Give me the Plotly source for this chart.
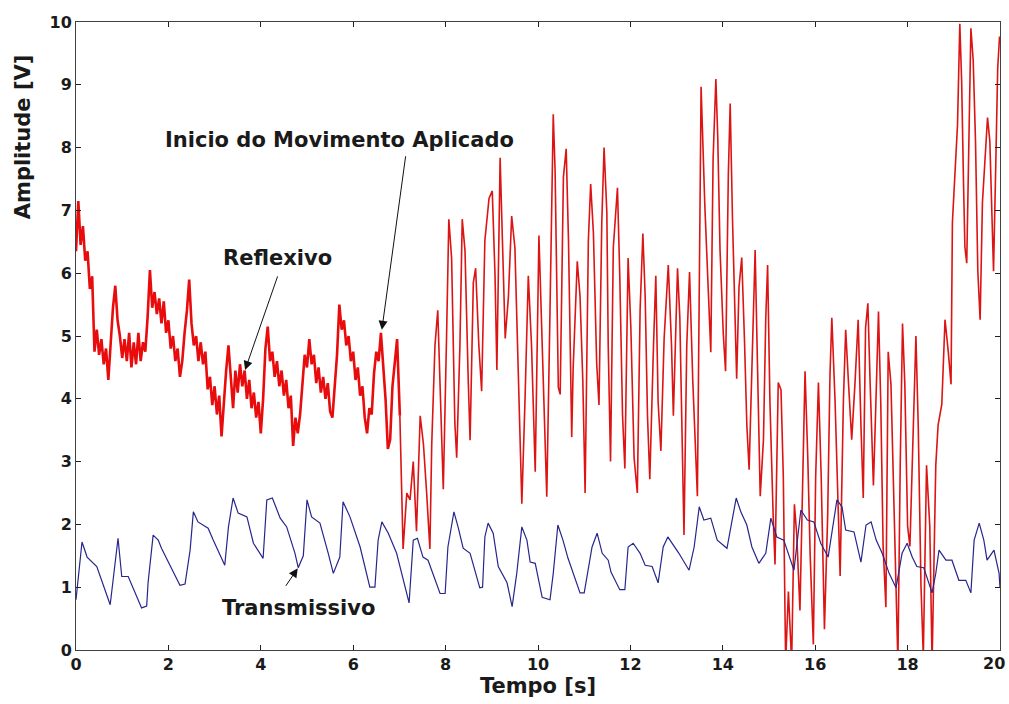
import plotly.graph_objects as go

# ---- Reflexivo (red) : noisy part, sampled every 0.05 s from t = 0 ----
refl_noisy_step = 0.05
refl_noisy_v = [
    6.35, 7.15, 6.45, 6.75, 6.2, 6.35, 5.75, 5.95, 4.75, 5.1,
    4.7, 4.95, 4.55, 4.8, 4.3, 4.95, 5.45, 5.8, 5.25, 5.0,
    4.65, 4.95, 4.6, 5.05, 4.5, 4.9, 4.55, 5.05, 4.6, 4.9,
    4.75, 5.3, 6.05, 5.45, 5.7, 5.35, 5.6, 5.2, 5.55, 5.05,
    5.25, 4.8, 5.0, 4.6, 4.8, 4.35, 4.6, 5.05, 5.4, 5.9,
    5.2, 4.85, 5.0, 4.6, 4.9, 4.55, 4.75, 4.15, 4.35, 3.9,
    4.2, 3.75, 4.05, 3.4, 4.0, 4.45, 4.85, 4.3, 3.85, 4.45,
    4.1, 4.55, 4.2, 4.45, 4.0, 4.3, 3.85, 4.1, 3.7, 3.95,
    3.45, 4.0, 4.8, 5.15, 4.6, 4.75, 4.35, 4.6, 4.2, 4.45,
    4.05, 4.3, 3.85, 4.05, 3.25, 3.7, 3.45, 3.75, 4.3, 4.7,
    4.5, 4.95, 4.55, 4.7, 4.25, 4.5, 4.1, 4.35, 4.0, 4.25,
    3.8, 3.7, 4.2, 4.7, 5.5, 5.1, 5.25, 4.85, 5.0, 4.6,
    4.75, 4.3, 4.5, 4.05, 4.2, 3.7, 3.45, 3.85, 3.75, 4.4,
    4.75, 4.6, 5.05, 4.5, 4.0, 3.2, 3.35, 4.2, 4.6, 4.95,
]

# ---- Reflexivo (red) : oscillating part after the applied movement ----
refl_t = [
    7.01, 7.08, 7.16, 7.23, 7.30, 7.37, 7.45, 7.52, 7.59, 7.66, 7.70, 7.77, 7.83, 7.88, 7.95,
    8.02, 8.07, 8.13, 8.20, 8.24, 8.31, 8.36, 8.42, 8.49, 8.53, 8.60, 8.65, 8.72, 8.78, 8.85,
    8.94, 9.01, 9.07, 9.11, 9.18, 9.23, 9.29, 9.36, 9.43, 9.50, 9.57, 9.65, 9.72, 9.79, 9.86,
    9.94, 10.02, 10.19, 10.26, 10.33, 10.37, 10.44, 10.48, 10.55, 10.61, 10.66, 10.73, 10.76,
    10.85, 10.91, 10.97, 11.02, 11.09, 11.14, 11.20, 11.27, 11.32, 11.38, 11.43, 11.49, 11.52,
    11.57, 11.63, 11.72, 11.77, 11.83, 11.88, 11.95, 12.01, 12.08, 12.15, 12.21, 12.27, 12.32,
    12.37, 12.42, 12.50, 12.55, 12.60, 12.66, 12.73, 12.82, 12.89, 12.93, 13.02, 13.07, 13.16,
    13.22, 13.28, 13.35, 13.45, 13.53, 13.61, 13.69, 13.74, 13.79, 13.85, 13.89, 13.94, 14.01,
    14.06, 14.12, 14.16, 14.21, 14.25, 14.30, 14.35, 14.41, 14.47, 14.52, 14.57, 14.64, 14.70,
    14.75, 14.81, 14.88, 14.93, 14.97, 15.02, 15.09, 15.13, 15.20, 15.26, 15.31, 15.36, 15.42,
    15.49, 15.55, 15.60, 15.67, 15.72, 15.78, 15.84, 15.89, 15.96, 16.01, 16.07, 16.13, 16.20,
    16.27, 16.32, 16.36, 16.43, 16.49, 16.54, 16.61, 16.66, 16.72, 16.79, 16.86, 16.93, 16.99,
    17.04, 17.09, 17.14, 17.19, 17.26, 17.31, 17.37, 17.42, 17.47, 17.53, 17.58, 17.64, 17.71,
    17.79, 17.84, 17.89, 17.94, 18.00, 18.05, 18.12, 18.18, 18.23, 18.29, 18.34, 18.41, 18.48,
    18.53, 18.61, 18.66, 18.74, 18.81, 18.88, 18.94, 18.97, 19.03, 19.08, 19.13, 19.17, 19.21,
    19.24, 19.28, 19.33, 19.37, 19.42, 19.47, 19.52, 19.57, 19.62, 19.68, 19.73, 19.78, 19.82,
    19.86, 19.91, 19.95, 19.99,
]
refl_v = [
    3.73, 1.61, 2.5, 2.39, 3.0, 1.89, 3.73, 3.28, 2.5, 1.61, 3.28, 4.85, 5.41, 4.29, 2.56,
    4.96, 6.86, 6.24, 3.62, 3.06, 4.85, 6.86, 6.36, 4.29, 3.34, 5.85, 6.08, 4.85, 4.12, 6.52,
    7.19, 7.31, 5.96, 4.46, 7.84, 6.52, 4.96, 5.63, 6.91, 6.41, 4.29, 2.33, 4.01, 5.96, 4.85,
    2.84, 6.6, 2.44, 5.41, 8.53, 7.64, 4.18, 4.07, 7.53, 7.98, 6.52, 3.39, 4.46,
    6.19, 5.63, 4.29, 2.5, 6.52, 7.42, 6.63, 4.57, 3.9, 6.8, 8.0, 6.97, 4.85,
    3.0, 6.41, 7.36, 5.96, 3.73, 2.89, 6.24, 5.13, 3.06, 2.5, 5.41, 6.63, 5.63,
    3.73, 2.72, 4.85, 5.96, 3.95, 3.17, 4.96, 6.13, 4.85, 3.73, 6.08, 5.29, 1.83,
    4.85, 6.02, 4.29, 2.45, 8.97, 7.1, 5.47, 4.74, 7.82, 9.09, 8.19, 6.37, 5.04,
    4.44, 7.58, 8.7, 6.86, 5.89, 4.32, 5.77, 6.25, 4.92, 3.59, 2.87, 4.68, 6.37,
    4.56, 2.45, 3.35, 5.29, 6.13, 3.96, 2.14, 1.36, 4.26, 4.14, 2.75, -0.2, 0.93,
    -0.2, 2.32, 1.84, 0.63, 2.26, 4.44, 3.05, 1.54, 0.09, 2.75, 4.26, 2.75, 0.33,
    2.14, 4.38, 5.29, 3.96, 2.45, 1.18, 3.96, 5.1, 4.26, 3.35, 4.23, 5.26, 3.58,
    2.42, 5.13, 5.52, 4.23, 2.62, 3.84, 5.39, 3.91, 1.65, 0.68, 4.75, 4.23, 2.3,
    -0.2, 2.94, 5.2, 4.23, 1.97, 1.65, 3.26, 5.0, 3.58, 1.01, -0.1, 2.94, 1.97,
    -0.2, 2.94, 3.58, 3.91, 5.26, 4.75, 4.23, 6.81, 7.71, 8.36, 9.97, 9.06, 7.45,
    6.42, 6.16, 8.42, 9.9, 9.39, 8.1, 6.03, 5.26, 7.13, 7.9, 8.48, 8.1, 6.81,
    6.03, 7.78, 9.26, 9.77,
]

# ---- Transmissivo (blue) ----
trans_t = [
    0.0, 0.13, 0.24, 0.45, 0.74, 0.91, 0.99, 1.13, 1.42, 1.53, 1.56, 1.67, 1.78, 1.85, 2.25,
    2.36, 2.47, 2.54, 2.64, 2.86, 2.97, 3.22, 3.30, 3.40, 3.51, 3.70, 3.84, 4.05, 4.13, 4.25,
    4.42, 4.56, 4.74, 4.81, 4.92, 5.00, 5.10, 5.28, 5.46, 5.57, 5.71, 5.78, 5.93, 6.15, 6.36,
    6.47, 6.54, 6.62, 6.76, 6.94, 7.21, 7.30, 7.39, 7.51, 7.62, 7.88, 7.99, 8.05, 8.18, 8.27,
    8.38, 8.53, 8.74, 8.80, 8.85, 8.92, 9.03, 9.14, 9.33, 9.44, 9.54, 9.65, 9.76, 9.83, 9.94,
    10.09, 10.26, 10.33, 10.43, 10.54, 10.65, 10.91, 11.00, 11.17, 11.28, 11.39, 11.52, 11.58,
    11.77, 11.88, 11.95, 12.06, 12.21, 12.32, 12.47, 12.60, 12.71, 12.81, 13.05, 13.27, 13.38,
    13.49, 13.59, 13.74, 13.88, 14.09, 14.29, 14.39, 14.52, 14.63, 14.78, 14.93, 15.04, 15.17,
    15.32, 15.54, 15.69, 15.83, 15.97, 16.12, 16.28, 16.47, 16.58, 16.66, 16.84, 16.95, 16.99,
    17.10, 17.21, 17.32, 17.45, 17.60, 17.75, 17.88, 17.99, 18.10, 18.20, 18.35, 18.53, 18.61,
    18.68, 18.83, 18.96, 19.11, 19.26, 19.37, 19.44, 19.55, 19.65, 19.72, 19.87, 19.98, 20.0,
]
trans_v = [
    0.8, 1.72, 1.48, 1.33, 0.72, 1.78, 1.17, 1.17, 0.67, 0.7, 1.07, 1.83, 1.75, 1.62, 1.03,
    1.05, 1.59, 2.2, 2.04, 1.94, 1.75, 1.35, 1.96, 2.42, 2.18, 2.12, 1.7, 1.46, 2.39, 2.42,
    2.1, 1.96, 1.54, 1.31, 1.5, 2.39, 2.12, 2.02, 1.54, 1.22, 1.48, 2.36, 2.12, 1.64, 1.0,
    1.0, 1.75, 2.04, 1.86, 1.54, 0.75, 1.75, 1.78, 1.48, 1.43, 0.9, 0.9, 1.64, 2.2, 1.96,
    1.62, 1.54, 0.99, 1.0, 1.8, 2.02, 1.86, 1.33, 1.07, 0.69, 1.22, 1.96, 1.75, 1.4, 1.38,
    0.84, 0.8, 1.22, 1.99, 1.75, 1.46, 0.91, 0.91, 1.64, 1.86, 1.54, 1.43, 1.24,
    0.96, 0.96, 1.64, 1.7, 1.54, 1.35, 1.33, 1.07, 1.64, 1.8, 1.54, 1.27, 1.64,
    2.28, 2.07, 2.1, 1.75, 1.62, 2.42, 2.2, 1.99, 1.64, 1.38, 1.54, 2.1, 1.8,
    1.75, 1.27, 2.23, 2.07, 2.04, 1.7, 1.48, 2.39, 2.28, 1.91, 1.88, 1.54, 1.4,
    1.99, 2.04, 1.75, 1.54, 1.22, 0.99, 1.54, 1.7, 1.48, 1.33, 1.31, 0.91, 1.22,
    1.59, 1.43, 1.43, 1.11, 1.11, 0.91, 1.75, 2.02, 1.75, 1.43, 1.59, 1.22, 0.99,
]

x_ticks = [0, 2, 4, 6, 8, 10, 12, 14, 16, 18, 20]
y_ticks = [0, 1, 2, 3, 4, 5, 6, 7, 8, 9, 10]

refl_noisy_t = [round(i * refl_noisy_step, 2) for i in range(len(refl_noisy_v))]

FONT = "DejaVu Sans"
RED = "rgb(232,12,12)"
TXT = "#1a1a1a"

fig = go.Figure()
# noisy (pre-movement) part drawn as a dense thick band
fig.add_trace(go.Scatter(x=refl_noisy_t + [refl_t[0]], y=refl_noisy_v + [refl_v[0]], mode="lines",
                         line=dict(color=RED, width=2.6),
                         name="Reflexivo", showlegend=False))
fig.add_trace(go.Scatter(x=refl_t, y=refl_v, mode="lines",
                         line=dict(color="rgb(220,20,20)", width=1.6),
                         name="Reflexivo", showlegend=False))
fig.add_trace(go.Scatter(x=trans_t, y=trans_v, mode="lines",
                         line=dict(color="rgb(38,38,140)", width=1.2),
                         name="Transmissivo", showlegend=False))

axis_common = dict(showline=True, linecolor="#404040", linewidth=1, mirror="ticks",
                   ticks="inside", ticklen=5, tickcolor="#202020", showgrid=False,
                   zeroline=False, automargin=False,
                   tickfont=dict(family=FONT, size=16, color=TXT))

# the last x label (20) sits at the right edge; it is drawn as an annotation
# anchored to its tick so it stays inside the picture
x_ticktext = [f"<b>{v}</b>" if v != x_ticks[-1] else "" for v in x_ticks]

fig.update_xaxes(range=[0, 20], tickvals=x_ticks, ticktext=x_ticktext,
                 title=dict(text="<b>Tempo [s]</b>", font=dict(family=FONT, size=21, color=TXT),
                            standoff=4),
                 **axis_common)
fig.update_yaxes(range=[0, 10], tickvals=y_ticks, ticktext=[f"<b>{v}</b>" for v in y_ticks],
                 **axis_common)

ann_font = dict(family=FONT, size=21, color=TXT)
arrow_style = dict(showarrow=True, arrowhead=2, arrowsize=1.8, arrowwidth=1.0, arrowcolor="#111")
annotations = [
    dict(x=5.71, y=8.12, xref="x", yref="y", text="<b>Inicio do Movimento Aplicado</b>",
         showarrow=False, font=ann_font),
    dict(x=4.37, y=6.24, xref="x", yref="y", text="<b>Reflexivo</b>",
         showarrow=False, font=ann_font),
    dict(x=4.81, y=0.67, xref="x", yref="y", text="<b>Transmissivo</b>",
         showarrow=False, font=ann_font),
    # arrows
    dict(x=6.62, y=5.1, xref="x", yref="y", ax=24, ay=-175, text="", **arrow_style),
    dict(x=3.66, y=4.46, xref="x", yref="y", ax=33, ay=-95, text="", **arrow_style),
    dict(x=4.8, y=1.3, xref="x", yref="y", ax=-13, ay=19, text="", **arrow_style),
    # last x tick label
    dict(x=x_ticks[-1], y=0, xref="x", yref="paper", text=f"<b>{x_ticks[-1]}</b>",
         showarrow=False, xanchor="right", yanchor="top", xshift=7, yshift=-2,
         font=dict(family=FONT, size=16, color=TXT)),
    # y axis title placed as in the original (upper part of the axis)
    dict(x=-0.057, y=0.817, xref="paper", yref="paper", text="<b>Amplitude [V]</b>",
         textangle=-90, showarrow=False, xanchor="center", yanchor="middle",
         font=dict(family=FONT, size=21, color=TXT)),
]

fig.update_layout(width=1009, height=704, margin=dict(l=76, r=9, t=22, b=54, autoexpand=False),
                  paper_bgcolor="white", plot_bgcolor="white",
                  annotations=annotations, showlegend=False)

fig.write_html("out.html")
